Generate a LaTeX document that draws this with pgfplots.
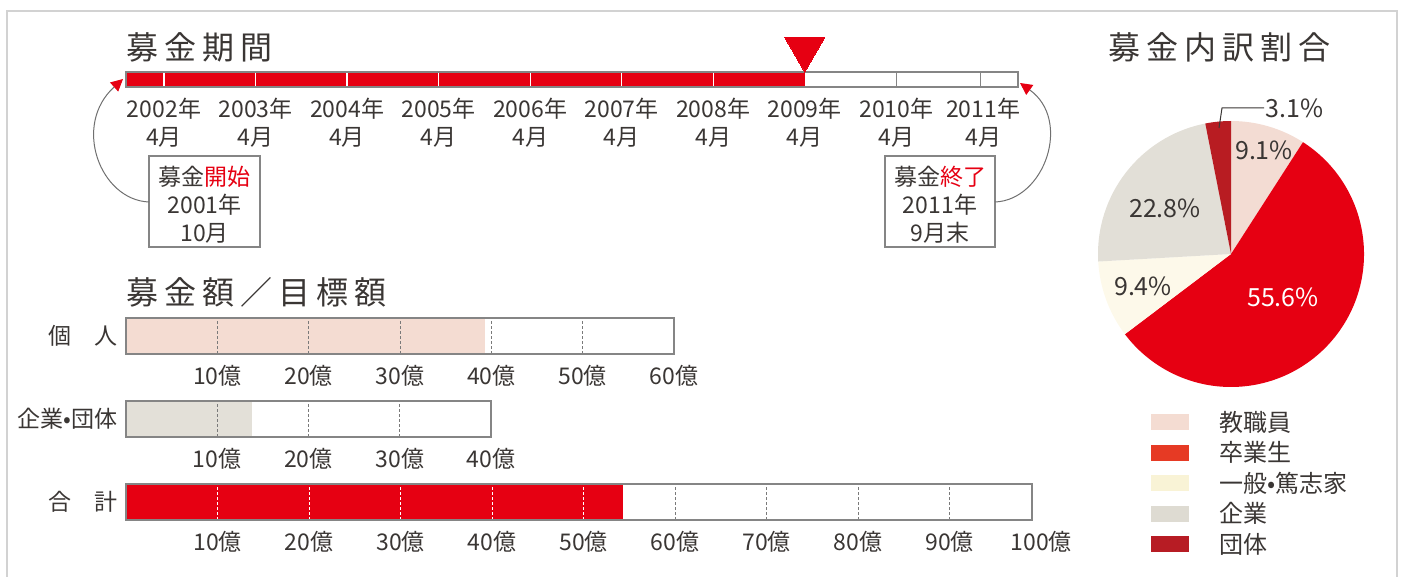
\documentclass[border=0pt]{standalone}
\usepackage{pgfplots}
\pgfplotsset{compat=1.18}
\usepackage{fontspec}
\setmainfont{Noto Sans CJK JP}
\usetikzlibrary{arrows.meta}
\definecolor{myred}{HTML}{E60012}
\definecolor{textgray}{HTML}{3A3634}
\definecolor{bordergray}{HTML}{858585}
\definecolor{framegray}{HTML}{D2D2D2}
\definecolor{gridgray}{HTML}{7A7A7A}
\definecolor{arcgray}{HTML}{707070}
\definecolor{fillpink}{HTML}{F4DCD2}
\definecolor{fillbeige}{HTML}{E3E0D8}
\definecolor{pieA}{HTML}{F3DCD3}
\definecolor{pieB}{HTML}{E60012}
\definecolor{pieC}{HTML}{FDF9EA}
\definecolor{pieD}{HTML}{E2DFD7}
\definecolor{pieE}{HTML}{B81C22}
\definecolor{legA}{HTML}{F4DCD2}
\definecolor{legB}{HTML}{E63A24}
\definecolor{legC}{HTML}{F9F3D6}
\definecolor{legD}{HTML}{DEDBD2}
\definecolor{legE}{HTML}{B71C24}
\newcommand{\ttl}{\fontsize{16}{18}\selectfont}
\newcommand{\mfont}{\fontsize{11.5}{14}\selectfont}
\newcommand{\lfont}{\fontsize{12}{14}\selectfont}
\newcommand{\pfont}{\fontsize{12.5}{15}\selectfont}
\newcommand{\tsp}{\hspace{3pt}}
\pgfplotsset{
  amountbar/.style={
    anchor=north west, scale only axis, height=18pt,
    xmin=0, ymin=0.5, ymax=1.5,
    axis on top, clip=false,
    axis line style={draw=bordergray, line width=0.7pt},
    ytick=\empty, major tick length=0pt,
    xtick style={draw=none},
    xticklabel style={font=\mfont, text=textgray, yshift=-2pt},
  },
}
\begin{document}
\begin{tikzpicture}
% ---------- timeline ----------
\begin{axis}[at={(63pt,-36pt)}, anchor=north west, scale only axis,
  width=446pt, height=7.5pt,
  xmin=2001.835, xmax=2011.58, ymin=0, ymax=1,
  axis on top, clip=false, scaled x ticks=false,
  axis line style={draw=bordergray, line width=0.6pt},
  ytick=\empty, major tick length=0pt, xtick style={draw=none},
  xtick={2002.25,2003.25,2004.25,2005.25,2006.25,2007.25,2008.25,2009.25,2010.25,2011.2},
  xticklabels={{2002年\\4月},{2003年\\4月},{2004年\\4月},{2005年\\4月},{2006年\\4月},{2007年\\4月},{2008年\\4月},{2009年\\4月},{2010年\\4月},{2011年\\4月}},
  xticklabel style={font=\mfont, text=textgray, align=center, yshift=-2pt}]
\addplot[fill=myred, draw=none] coordinates {(2001.835,1) (2009.25,1)} \closedcycle;
\pgfplotsinvokeforeach{2002.25,2003.25,2004.25,2005.25,2006.25,2007.25,2008.25}{
  \draw[white, line width=0.6pt] (axis cs:#1,0) -- (axis cs:#1,1);}
\pgfplotsinvokeforeach{2010.25,2011.17}{
  \draw[bordergray, line width=0.6pt] (axis cs:#1,0) -- (axis cs:#1,1);}
\addplot[myred, only marks, mark=triangle*, mark size=11.5pt,
  mark options={rotate=180, fill=myred, draw=myred, line width=0pt}] coordinates {(2009.25,2.53)};
\end{axis}
% ---------- 個人 ----------
\begin{axis}[amountbar, at={(63pt,-159pt)}, width=274pt, xmax=60,
  xtick={10,20,30,40,50,60}, xticklabels={10億,20億,30億,40億,50億,60億}]
\addplot[xbar, bar width=18pt, fill=fillpink, draw=none] coordinates {(39.3,1)};
\pgfplotsinvokeforeach{10,20,30,40,50}{
  \draw[gridgray, line width=0.5pt, dash pattern=on 1.5pt off 1pt] (axis cs:#1,0.5) -- (axis cs:#1,1.5);}
\end{axis}
% ---------- 企業・団体 ----------
\begin{axis}[amountbar, at={(63pt,-200.5pt)}, width=182.5pt, xmax=40,
  xtick={10,20,30,40}, xticklabels={10億,20億,30億,40億}]
\addplot[xbar, bar width=18pt, fill=fillbeige, draw=none] coordinates {(13.8,1)};
\pgfplotsinvokeforeach{10,20,30}{
  \draw[gridgray, line width=0.5pt, dash pattern=on 1.5pt off 1pt] (axis cs:#1,0.5) -- (axis cs:#1,1.5);}
\end{axis}
% ---------- 合計 ----------
\begin{axis}[amountbar, at={(63pt,-242pt)}, width=453pt, xmax=99.0,
  xtick={10,20,30,40,50,60,70,80,90},
  xticklabels={10億,20億,30億,40億,50億,60億,70億,80億,90億}]
\addplot[xbar, bar width=18pt, fill=myred, draw=none] coordinates {(54.3,1)};
\pgfplotsinvokeforeach{10,20,30,40,50}{
  \draw[white, line width=0.5pt, dash pattern=on 1.5pt off 1pt] (axis cs:#1,0.5) -- (axis cs:#1,1.5);}
\pgfplotsinvokeforeach{60,70,80,90}{
  \draw[gridgray, line width=0.5pt, dash pattern=on 1.5pt off 1pt] (axis cs:#1,0.5) -- (axis cs:#1,1.5);}
\node[anchor=north, inner sep=0.333em, font=\mfont, text=textgray, yshift=-2pt] at (axis cs:100,0.5) {100億};
\end{axis}
% ---------- pie ----------
\begin{scope}[shift={(615.5pt,-127pt)}]
\def\pieang{90}
\foreach \v/\c in {9.1/pieA, 55.6/pieB, 9.4/pieC, 22.8/pieD, 3.1/pieE} {
  \pgfmathsetmacro\endang{\pieang - 3.6*\v}
  \fill[\c] (0,0) -- (\pieang:66.5pt) arc[start angle=\pieang, end angle=\endang, radius=66.5pt] -- cycle;
  \xdef\pieang{\endang}
}
\end{scope}
% ---------- annotations in pixel units ----------
\begin{scope}[x=0.5pt, y=-0.5pt]
\draw[framegray, line width=0.8pt] (7,600) -- (7,11) -- (1397,11) -- (1397,600);
\node[anchor=west, inner sep=0, text=textgray, font=\ttl] at (126,47) {募\tsp 金\tsp 期\tsp 間};
\node[anchor=west, inner sep=0, text=textgray, font=\ttl] at (126,292) {募\tsp 金\tsp 額\tsp ／\tsp 目\tsp 標\tsp 額};
\node[anchor=west, inner sep=0, text=textgray, font=\ttl] at (1108,47) {募\tsp 金\tsp 内\tsp 訳\tsp 割\tsp 合};
% callouts
\draw[bordergray, line width=0.6pt] (149,156) rectangle (260,247);
\node[align=center, inner sep=0, text=textgray, font=\mfont] at (204.5,205) {募金{\color{myred}開始}\\2001年\\10月};
\draw[bordergray, line width=0.6pt] (885,156) rectangle (995,247);
\node[align=center, inner sep=0, text=textgray, font=\mfont] at (940,205) {募金{\color{myred}終了}\\2011年\\9月末};
\draw[arcgray, line width=0.5pt, -{Triangle[length=6pt, width=6pt, color=myred]}] (149,202) .. controls (100,200) and (72,125) .. (123,79);
\draw[arcgray, line width=0.5pt, -{Triangle[length=6pt, width=6pt, color=myred]}] (995,202) .. controls (1045,200) and (1072,120) .. (1020,83);
% row labels
\node[anchor=east, inner sep=0, text=textgray, font=\mfont] at (118,336) {個　人};
\node[anchor=east, inner sep=0, text=textgray, font=\mfont] at (118,419) {企業•団体};
\node[anchor=east, inner sep=0, text=textgray, font=\mfont] at (118,502) {合　計};
% pie labels
\node[font=\pfont, text=textgray] at (1264,150) {9.1\%};
\node[font=\pfont, text=textgray] at (1165,208) {22.8\%};
\node[font=\pfont, text=textgray] at (1143,286) {9.4\%};
\node[font=\pfont, text=white] at (1283,297) {55.6\%};
\draw[textgray, line width=0.5pt] (1219,128) -- (1222,108) -- (1264,108);
\node[anchor=west, inner sep=0, font=\pfont, text=textgray] at (1265,108) {3.1\%};
% legend
\foreach \c/\t [count=\i from 0] in {legA/教職員, legB/卒業生, legC/一般•篤志家, legD/企業, legE/団体} {
  \fill[\c] (1151,{414+30.5*\i}) rectangle (1189,{430+30.5*\i});
  \node[anchor=west, inner sep=0, font=\lfont, text=textgray] at (1219,{422+30.5*\i}) {\t};
}
\end{scope}
\pgfresetboundingbox
\path[use as bounding box] (0,0) rectangle (701.5pt,-288.5pt);
\end{tikzpicture}
\end{document}
